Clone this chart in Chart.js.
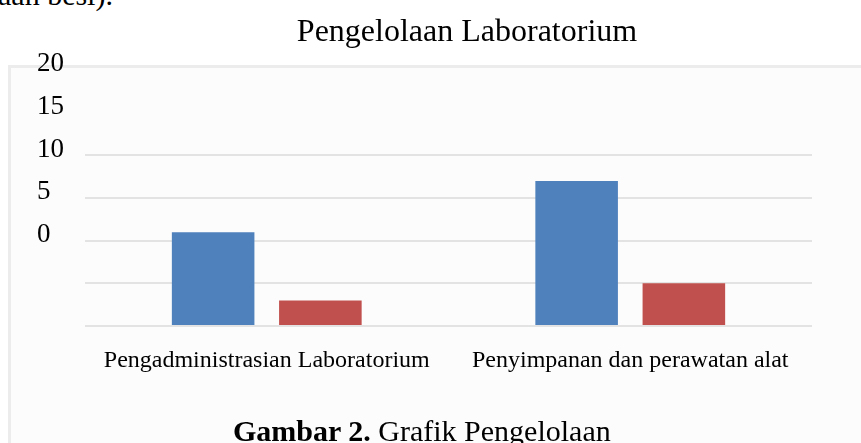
<!DOCTYPE html>
<html>
<head>
<meta charset="utf-8">
<script src="https://cdn.jsdelivr.net/npm/chart.js@4"></script>
<style>
  body { margin: 0; background: #fff; overflow: hidden; }
  #page { position: relative; width: 861px; height: 443px; overflow: hidden; font-family: "Liberation Serif", serif; }
  .top-line { position: absolute; left: -2px; top: -22px; font-size: 30px; color: #000; }
  .frame { position: absolute; left: 8px; top: 65px; width: 1000px; height: 500px;
           background: #fcfcfc; border-top: 3px solid #ececec; border-left: 3px solid #ececec; }
  #chart { position: absolute; left: 0; top: 0; }
  .caption { position: absolute; left: 233px; top: 414px; font-size: 30px; color: #000; white-space: nowrap; }
</style>
</head>
<body>
<div id="page">
  <div class="top-line">aan besi).</div>
  <div class="frame"></div>
  <canvas id="chart" width="940" height="443"></canvas>
  <div class="caption"><b>Gambar 2.</b> Grafik Pengelolaan</div>
</div>
<script>
// data
const categories = ['Pengadministrasian Laboratorium', 'Penyimpanan dan perawatan alat'];
const seriesBlue = [11, 17];
const seriesRed = [3, 5];
const yTicks = [0, 5, 10, 15, 20];

const serif = '"Liberation Serif", "Times New Roman", serif';

new Chart(document.getElementById('chart'), {
    type: 'bar',
    data: {
        labels: categories,
        datasets: [
            { label: 'Seri 1', data: seriesBlue, backgroundColor: '#4f81bd',
              barPercentage: 0.77, categoryPercentage: 0.59 },
            { label: 'Seri 2', data: seriesRed, backgroundColor: '#c0504d',
              barPercentage: 0.77, categoryPercentage: 0.59 }
        ]
    },
    options: {
        responsive: false,
        animation: false,
        layout: { padding: { left: 37, right: 43, top: 0, bottom: 57 } },
        plugins: {
            legend: { display: false },
            tooltip: { enabled: false },
            title: {
                display: true,
                text: 'Pengelolaan Laboratorium',
                color: '#000',
                font: { family: serif, size: 32, weight: 'normal' },
                padding: { top: 13, bottom: 104 }
            }
        },
        scales: {
            x: {
                afterFit: s => { s.height = 60; },
                grid: { display: false },
                border: { display: false },
                ticks: { color: '#000', padding: 12, font: { family: serif, size: 24 } }
            },
            y: {
                min: yTicks[0],
                max: yTicks[yTicks.length - 1],
                afterBuildTicks: s => { s.ticks = yTicks.map(v => ({ value: v })); },
                afterFit: s => { s.width = 48; },
                grid: { color: '#e3e3e3', lineWidth: 2, drawTicks: false },
                border: { display: false },
                ticks: {
                    color: '#000',
                    crossAlign: 'far',
                    labelOffset: -91,
                    font: { family: serif, size: 27 }
                }
            },
            // empty spacer on the right, the frame runs past the picture edge
            spacer: {
                type: 'linear',
                position: 'right',
                afterFit: s => { s.width = 85; },
                grid: { display: false },
                border: { display: false },
                ticks: { display: false }
            }
        }
    }
});
</script>
</body>
</html>
